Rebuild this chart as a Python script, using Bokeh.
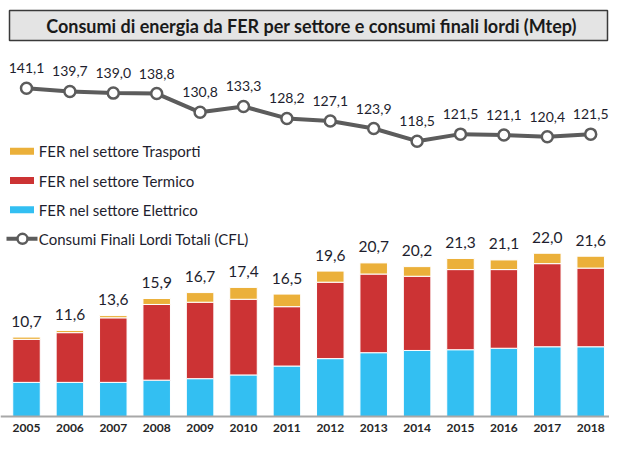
from bokeh.plotting import figure
from bokeh.models import Range1d, Span, ColumnDataSource
from bokeh.core.properties import value
from bokeh.embed import file_html
from bokeh.resources import INLINE

# ---------------- data ----------------
years = ["2005", "2006", "2007", "2008", "2009", "2010", "2011",
         "2012", "2013", "2014", "2015", "2016", "2017", "2018"]
fer_elettrico = [4.6, 4.6, 4.6, 4.9, 5.1, 5.6, 6.8, 7.8, 8.6, 8.9, 9.0, 9.2, 9.4, 9.4]
fer_termico = [5.8, 6.7, 8.7, 10.2, 10.3, 10.2, 8.0, 10.3, 10.6, 10.0, 10.8, 10.6, 11.2, 10.6]
fer_trasporti = [0.3, 0.3, 0.3, 0.8, 1.3, 1.6, 1.7, 1.5, 1.5, 1.3, 1.5, 1.3, 1.4, 1.6]
fer_totale = [10.7, 11.6, 13.6, 15.9, 16.7, 17.4, 16.5, 19.6, 20.7, 20.2, 21.3, 21.1, 22.0, 21.6]
cfl_totali = [141.1, 139.7, 139.0, 138.8, 130.8, 133.3, 128.2, 127.1, 123.9, 118.5, 121.5, 121.1, 120.4, 121.5]

title_text = "Consumi di energia da FER per settore e consumi finali lordi (Mtep)"
legend_labels = ["FER nel settore Trasporti", "FER nel settore Termico",
                 "FER nel settore Elettrico", "Consumi Finali Lordi Totali (CFL)"]

# ---------------- styles / geometry ----------------
C_BLUE = "#33bff2"
C_RED = "#cc3334"
C_YEL = "#ebb03a"
C_LINE = "#5c5c5c"
C_TXT = "#1e1e2e"
FONT = value("Lato")

W, H = 609, 434
UX = 43.4                  # px per category
X0 = -26.0 / UX            # x range start (first bar centre at 26 px)
UY = 7.42                  # px per Mtep (bars)
BASE_PX = 416              # baseline, px from top
Y_TOP = BASE_PX / UY
Y_BOT = Y_TOP - H / UY


def px_x(px):
    return X0 + px / UX


def px_y(py):
    return Y_TOP - py / UY


def fmt(v):
    return f"{v:.1f}".replace(".", ",")


src = ColumnDataSource(dict(
    x=list(range(len(years))),
    years=years,
    elettrico=fer_elettrico,
    termico=fer_termico,
    trasporti=fer_trasporti,
    tot=fer_totale,
    tot_lbl=[fmt(v) for v in fer_totale],
    cfl=cfl_totali,
    cfl_lbl=[fmt(v) for v in cfl_totali],
))

p = figure(width=W, height=H, output_backend="svg", toolbar_location=None,
           x_range=Range1d(X0, X0 + W / UX), y_range=Range1d(Y_BOT, Y_TOP),
           x_axis_location=None, y_axis_location=None,
           min_border=0, min_border_left=0, min_border_right=0,
           min_border_top=0, min_border_bottom=0)
p.grid.visible = False
p.outline_line_color = None
p.background_fill_color = "white"
p.extra_y_ranges = {"cfl": Range1d(-6.58, 178.49)}

# stacked bars
p.vbar_stack(["elettrico", "termico", "trasporti"], x="x", width=0.634,
             color=[C_BLUE, C_RED, C_YEL], line_color="white", line_width=1,
             source=src)

# baseline
p.add_layout(Span(location=0, dimension="width", line_color="#a8a8a8", line_width=2))

# bar totals
p.text(x="x", y="tot", text="tot_lbl", source=src, y_offset=-16,
       text_align="center", text_baseline="middle", text_font=FONT,
       text_font_size="15.5px", text_color=C_TXT)

# year labels
p.text(x="x", y=px_y(427), text="years", source=src,
       text_align="center", text_baseline="middle", text_font=FONT,
       text_font_size="12px", text_font_style="bold", text_color="#262626")

# CFL line
p.line(x="x", y="cfl", source=src, y_range_name="cfl", line_color=C_LINE, line_width=4)
p.scatter(x="x", y="cfl", source=src, y_range_name="cfl", size=11,
          fill_color="white", line_color=C_LINE, line_width=2.5)
p.text(x="x", y="cfl", text="cfl_lbl", source=src, y_range_name="cfl", y_offset=-20,
       text_align="center", text_baseline="middle", text_font=FONT,
       text_font_size="14px", text_color=C_TXT)

# legend (manual)
leg_y = [150.7, 180.0, 209.3, 238.3]
for lbl, col, yy in zip(legend_labels[:3], [C_YEL, C_RED, C_BLUE], leg_y[:3]):
    p.rect(x=[px_x(21.5)], y=[px_y(yy)], width=24, height=7,
           width_units="screen", height_units="screen", fill_color=col, line_color=None)
    p.text(x=[px_x(38.3)], y=[px_y(yy)], text=[lbl], text_align="left",
           text_baseline="middle", text_font=FONT, text_font_size="15px", text_color=C_TXT)
p.line(x=[px_x(6), px_x(37)], y=[px_y(leg_y[3])] * 2, line_color=C_LINE, line_width=4)
p.scatter(x=[px_x(22)], y=[px_y(leg_y[3])], size=10, fill_color="white",
          line_color=C_LINE, line_width=2.5)
p.text(x=[px_x(38.3)], y=[px_y(leg_y[3])], text=[legend_labels[3]], text_align="left",
       text_baseline="middle", text_font=FONT, text_font_size="15px", text_color=C_TXT)

# title box
p.quad(left=[px_x(9)], right=[px_x(607)], top=[px_y(10)], bottom=[px_y(40)],
       fill_color="#e4e4e4", line_color="#3a3a3a", line_width=1.5)
p.text(x=[px_x(311)], y=[px_y(25.5)], text=[title_text], text_align="center",
       text_baseline="middle", text_font=FONT, text_font_size="18px",
       text_font_style="bold", text_color="#1a1a1a")

open("out.html", "w").write(file_html(p, INLINE))
